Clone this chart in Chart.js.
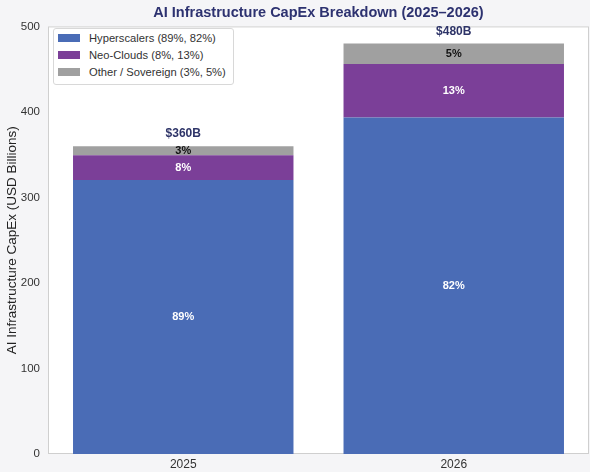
<!DOCTYPE html>
<html>
<head>
<meta charset="utf-8">
<script src="https://cdn.jsdelivr.net/npm/chart.js@4.4.0/dist/chart.umd.min.js"></script>
<style>
  html, body { margin: 0; padding: 0; background: #f5f5f7; }
  #wrap { position: relative; width: 590px; height: 472px; }
  #legend {
    position: absolute; left: 53px; top: 28px;
    background: #fff; border: 1px solid #d8d8d8; border-radius: 3px;
    padding: 1px 7px 3px 4px;
    font: 11.2px "Liberation Sans", Arial, sans-serif; color: #333;
  }
  #legend div { height: 17px; line-height: 17px; white-space: nowrap; }
  #legend span { display: inline-block; width: 22px; height: 8px; margin-right: 9px; }
</style>
</head>
<body>
<div id="wrap">
  <canvas id="capex-chart" width="590" height="472"></canvas>
  <div id="legend"></div>
</div>
<script>
var years = ["2025", "2026"];
var totals = [360, 480];
var hyperscalers = [320.4, 393.6];
var neoClouds = [28.8, 62.4];
var otherSovereign = [10.8, 24];
var hyperPct = [89, 82];
var neoPct = [8, 13];
var otherPct = [3, 5];
var yTicks = [0, 100, 200, 300, 400, 500];

var FONT = "'Liberation Sans', Arial, sans-serif";

var datasets = [
  { label: "Hyperscalers (89%, 82%)", data: hyperscalers, backgroundColor: "#4a6cb6", pct: hyperPct, textColor: "#ffffff" },
  { label: "Neo-Clouds (8%, 13%)", data: neoClouds, backgroundColor: "#7b3f98", pct: neoPct, textColor: "#ffffff" },
  { label: "Other / Sovereign (3%, 5%)", data: otherSovereign, backgroundColor: "#a0a0a0", pct: otherPct, textColor: "#111111" }
];

// white plot area with a thin border
var plotBox = {
  id: "plotBox",
  beforeDraw: function(chart) {
    var ctx = chart.ctx, a = chart.chartArea;
    ctx.save();
    ctx.fillStyle = "#ffffff";
    ctx.fillRect(a.left, a.top, a.right - a.left, a.bottom - a.top);
    ctx.strokeStyle = "#cfcfcf";
    ctx.lineWidth = 1;
    ctx.strokeRect(a.left + 0.5, a.top + 0.5, a.right - a.left - 1, a.bottom - a.top - 1);
    ctx.restore();
  }
};

// percent labels inside segments and totals on top
var barLabels = {
  id: "barLabels",
  afterDatasetsDraw: function(chart) {
    var ctx = chart.ctx;
    ctx.save();
    ctx.textAlign = "center";
    ctx.textBaseline = "middle";
    chart.data.datasets.forEach(function(ds, i) {
      chart.getDatasetMeta(i).data.forEach(function(bar, j) {
        ctx.fillStyle = ds.textColor;
        ctx.font = "bold 11px " + FONT;
        ctx.fillText(ds.pct[j] + "%", bar.x, (bar.y + bar.base) / 2);
      });
    });
    var yScale = chart.scales.y;
    var lastMeta = chart.getDatasetMeta(chart.data.datasets.length - 1);
    lastMeta.data.forEach(function(bar, j) {
      ctx.fillStyle = "#2e3468";
      ctx.font = "bold 12px " + FONT;
      ctx.fillText("$" + totals[j] + "B", bar.x, yScale.getPixelForValue(totals[j]) - 12);
    });
    ctx.restore();
  }
};

var capexChart = new Chart(document.getElementById("capex-chart"), {
  type: "bar",
  data: { labels: years, datasets: datasets },
  plugins: [plotBox, barLabels],
  options: {
    responsive: false,
    animation: false,
    devicePixelRatio: 1,
    layout: { padding: { left: 0, right: 1, top: 0, bottom: 0 } },
    datasets: { bar: { categoryPercentage: 1, barPercentage: 0.815 } },
    plugins: {
      legend: { display: false },
      tooltip: { enabled: false },
      title: {
        display: true,
        fullSize: false,
        text: "AI Infrastructure CapEx Breakdown (2025\u20132026)",
        color: "#2d3270",
        font: { family: FONT, size: 14.5, weight: "bold" },
        padding: { top: 4, bottom: 5 }
      }
    },
    scales: {
      x: {
        stacked: true,
        grid: { display: false, drawTicks: false, tickLength: 0 },
        border: { display: false },
        ticks: { color: "#333", font: { family: FONT, size: 12 }, padding: 3 },
        afterFit: function(s) { s.height = 18; }
      },
      y: {
        stacked: true,
        min: 0,
        max: 500,
        grid: { display: false, drawTicks: false, tickLength: 0 },
        border: { display: false },
        afterBuildTicks: function(s) { s.ticks = yTicks.map(function(v) { return { value: v }; }); },
        ticks: { color: "#333", font: { family: FONT, size: 11.5 }, padding: 8 },
        title: {
          display: true,
          text: "AI Infrastructure CapEx (USD Billions)",
          color: "#222",
          font: { family: FONT, size: 13.5 },
          padding: { top: 4, bottom: 2 }
        },
        afterFit: function(s) { s.width = 48; }
      }
    }
  }
});

// legend box inside the plot, built from the datasets
var legendEl = document.getElementById("legend");
datasets.forEach(function(ds) {
  var row = document.createElement("div");
  var sw = document.createElement("span");
  sw.style.background = ds.backgroundColor;
  row.appendChild(sw);
  row.appendChild(document.createTextNode(ds.label));
  legendEl.appendChild(row);
});
</script>
</body>
</html>
